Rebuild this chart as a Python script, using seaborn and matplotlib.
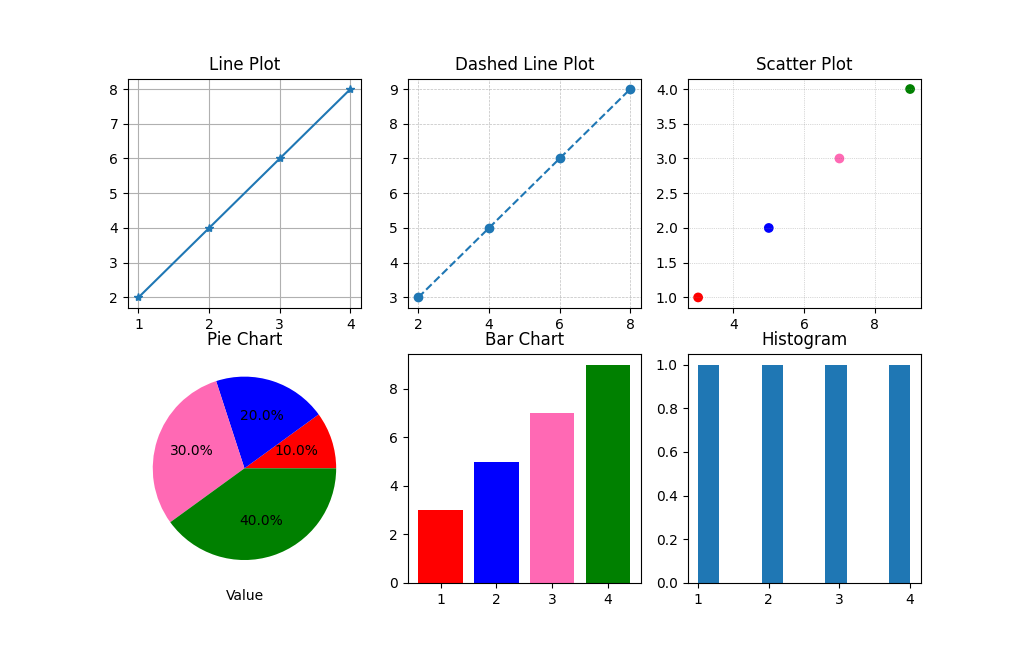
import matplotlib
matplotlib.use("Agg")
import matplotlib.pyplot as plt
import seaborn as sns
import pandas as pd

# data
line_x = [1, 2, 3, 4]
line_y = [2, 4, 6, 8]

dash_x = [2, 4, 6, 8]
dash_y = [3, 5, 7, 9]

scatter_x = [3, 5, 7, 9]
scatter_y = [1, 2, 3, 4]

pie_values = [1, 2, 3, 4]

bar_labels = ["1", "2", "3", "4"]
bar_values = [3, 5, 7, 9]

hist_data = [1, 2, 3, 4]

colors = ["red", "blue", "hotpink", "green"]
blue = "#1f77b4"

fig, axes = plt.subplots(2, 3, figsize=(10.23, 6.55), dpi=100)

# 1. line plot with star markers
ax = axes[0, 0]
sns.lineplot(x=line_x, y=line_y, ax=ax, marker="*", color=blue,
             markeredgecolor=blue, markeredgewidth=1, markersize=6)
ax.grid(True)
ax.set_title("Line Plot")

# 2. dashed line
ax = axes[0, 1]
sns.lineplot(x=dash_x, y=dash_y, ax=ax, marker="o", linestyle="--", color=blue,
             markeredgecolor=blue, markeredgewidth=1, markersize=6)
ax.grid(True, linestyle="--", linewidth=0.5, color="gray", alpha=0.5)
ax.set_title("Dashed Line Plot")

# 3. scatter
ax = axes[0, 2]
sc = pd.DataFrame({"x": scatter_x, "y": scatter_y, "c": colors})
sns.scatterplot(data=sc, x="x", y="y", hue="c", palette=colors, ax=ax,
                legend=False, s=36, linewidth=1, edgecolor="face")
ax.grid(True, linestyle=":", linewidth=0.5, color="gray", alpha=0.6)
ax.set_xlabel("")
ax.set_ylabel("")
ax.set_title("Scatter Plot")

# 4. pie
ax = axes[1, 0]
ax.pie(pie_values, colors=colors, autopct="%1.1f%%")
ax.set_xlabel("Value")
ax.set_title("Pie Chart")

# 5. bar chart
ax = axes[1, 1]
bars = pd.DataFrame({"cat": bar_labels, "val": bar_values})
sns.barplot(data=bars, x="cat", y="val", hue="cat", palette=colors, ax=ax,
            legend=False, saturation=1, width=0.8)
ax.autoscale(axis="x")
ax.set_xlabel("")
ax.set_ylabel("")
ax.set_title("Bar Chart")

# 6. histogram
ax = axes[1, 2]
sns.histplot(x=hist_data, bins=10, ax=ax, color=blue, alpha=1, linewidth=0)
ax.set_xticks([1, 2, 3, 4])
ax.set_ylabel("")
ax.set_title("Histogram")

plt.savefig("out.png", dpi=100)
